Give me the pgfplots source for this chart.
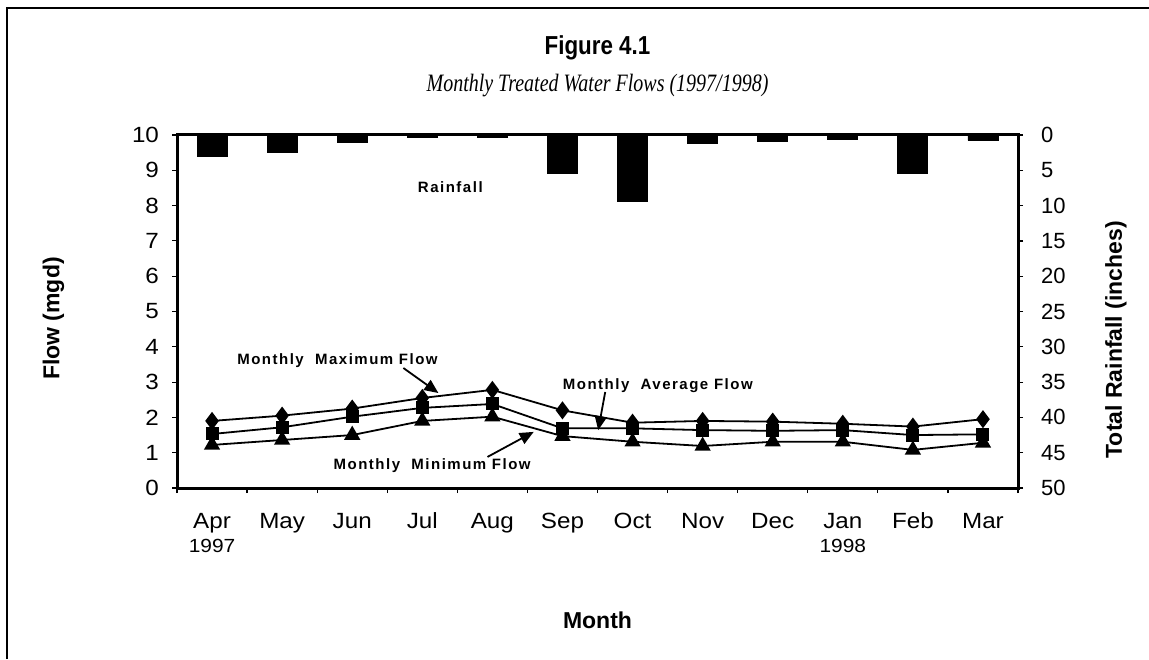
\documentclass[border=0pt]{standalone}
\usepackage{fontspec}
\setmainfont{Liberation Sans}
\newfontfamily\seriffont[FakeStretch=0.8]{Liberation Serif}
\newfontfamily\titlefont[FakeStretch=0.86]{Liberation Sans}
\newfontfamily\tickfont[FakeStretch=1.1]{Liberation Sans}
\newfontfamily\annfont[LetterSpace=10]{Liberation Sans}
\usepackage{pgfplots}
\pgfplotsset{compat=1.18}
\usetikzlibrary{arrows.meta}

\pgfplotstableread{
x  max   avg   min   rain
0  1.90  1.53  1.22  3.0
1  2.05  1.72  1.36  2.4
2  2.25  2.02  1.50  1.1
3  2.55  2.27  1.90  0.3
4  2.78  2.38  2.02  0.3
5  2.20  1.69  1.47  5.4
6  1.85  1.69  1.31  9.35
7  1.90  1.64  1.19  1.2
8  1.88  1.62  1.31  0.9
9  1.82  1.64  1.31  0.6
10 1.74  1.50  1.08  5.4
11 1.95  1.52  1.28  0.75
}\flowdata

\begin{document}
\begin{tikzpicture}
\path[use as bounding box] (0,0) rectangle (574.5pt,329.5pt);
\draw[line width=1pt] (3.5pt,0) -- (3.5pt,325.5pt) -- (574.5pt,325.5pt);
\node[font=\titlefont\bfseries\fontsize{13}{15}\selectfont] at (298.75pt,305.5pt) {Figure 4.1};
\node[font=\seriffont\itshape\fontsize{12.5}{14}\selectfont] at (298.75pt,286.5pt) {Monthly Treated Water Flows (1997/1998)};

\begin{axis}[
  at={(88.5pt,85.5pt)}, anchor=south west, scale only axis,
  width=420.5pt, height=176.5pt,
  xmin=-0.5, xmax=11.5, ymin=0, ymax=10,
  xtick={0,...,11},
  xticklabels={{\vphantom{Apl}Apr\\{\fontsize{9.5}{10}\selectfont 1997}},\vphantom{Apl}May,\vphantom{Apl}Jun,\vphantom{Apl}Jul,\vphantom{Apl}Aug,\vphantom{Apl}Sep,\vphantom{Apl}Oct,\vphantom{Apl}Nov,\vphantom{Apl}Dec,{\vphantom{Apl}Jan\\{\fontsize{9.5}{10}\selectfont 1998}},\vphantom{Apl}Feb,\vphantom{Apl}Mar},
  minor xtick={-0.5,0.5,...,11.5},
  ytick={0,...,10},
  xtick pos=bottom, ytick pos=left, tick align=outside,
  major tick length=2.5pt, minor tick length=2.5pt,
  tick style={line width=0.6pt, black},
  major x tick style={draw=none},
  axis line style={line width=1.5pt},
  /pgf/number format/assume math mode=true,
  xticklabel style={font=\tickfont\fontsize{11}{12}\selectfont, align=center, anchor=north, yshift=-6pt},
  yticklabel style={font=\tickfont\fontsize{11}{13}\selectfont, xshift=-3pt},
  xlabel={Month},
  xlabel style={at={(axis description cs:0.5,-0.374)}, anchor=center, font=\bfseries\fontsize{11.5}{13}\selectfont},
  ylabel={Flow (mgd)},
  ylabel style={at={(axis description cs:-0.147,0.48)}, anchor=center, font=\bfseries\fontsize{11.5}{13}\selectfont},
  clip=false,
]
\addplot[black, line width=0.9pt, mark=diamond*, mark size=3.8pt, mark options={fill=black}] table[x=x,y=max]{\flowdata};
\addplot[black, line width=0.9pt, mark=square*, mark size=2.8pt, mark options={fill=black}] table[x=x,y=avg]{\flowdata};
\addplot[black, line width=0.9pt, mark=triangle*, mark size=3.8pt, mark options={fill=black}] table[x=x,y=min]{\flowdata};

\node[font=\annfont\bfseries\fontsize{7.5}{9}\selectfont] at (axis cs:3.4,8.53) {Rainfall};
\node[font=\annfont\bfseries\fontsize{7.5}{9}\selectfont] at (axis cs:1.79,3.62) {Monthly\ \ Maximum Flow};
\node[font=\annfont\bfseries\fontsize{7.5}{9}\selectfont] at (axis cs:6.36,2.89) {Monthly\ \ Average Flow};
\node[font=\annfont\bfseries\fontsize{7.5}{9}\selectfont] at (axis cs:3.14,0.62) {Monthly\ \ Minimum Flow};
\draw[line width=0.9pt, -{Triangle[width=6pt,length=7pt]}] (axis cs:2.73,3.40) -- (axis cs:3.23,2.69);
\draw[line width=0.9pt, -{Triangle[width=6pt,length=7pt]}] (axis cs:5.61,2.72) -- (axis cs:5.51,1.64);
\draw[line width=0.9pt, -{Triangle[width=6pt,length=7pt]}] (axis cs:3.93,0.88) -- (axis cs:4.59,1.59);
\end{axis}

\begin{axis}[
  at={(88.5pt,85.5pt)}, anchor=south west, scale only axis,
  width=420.5pt, height=176.5pt,
  xmin=-0.5, xmax=11.5, ymin=0, ymax=50, y dir=reverse,
  axis y line*=right, axis x line=none,
  ytick={0,5,...,50},
  tick align=outside, major tick length=2.5pt,
  tick style={line width=0.6pt, black},
  axis line style={line width=1.5pt, -},
  /pgf/number format/assume math mode=true,
  yticklabel style={font=\fontsize{11}{13}\selectfont, xshift=5.5pt},
  ylabel={Total Rainfall (inches)},
  ylabel style={at={(axis description cs:1.1165,0.42)}, anchor=center, font=\bfseries\fontsize{11.5}{13}\selectfont},
]
\addplot[ybar, bar width=15pt, fill=black, draw=black] table[x=x,y=rain]{\flowdata};
\end{axis}
\end{tikzpicture}
\end{document}
